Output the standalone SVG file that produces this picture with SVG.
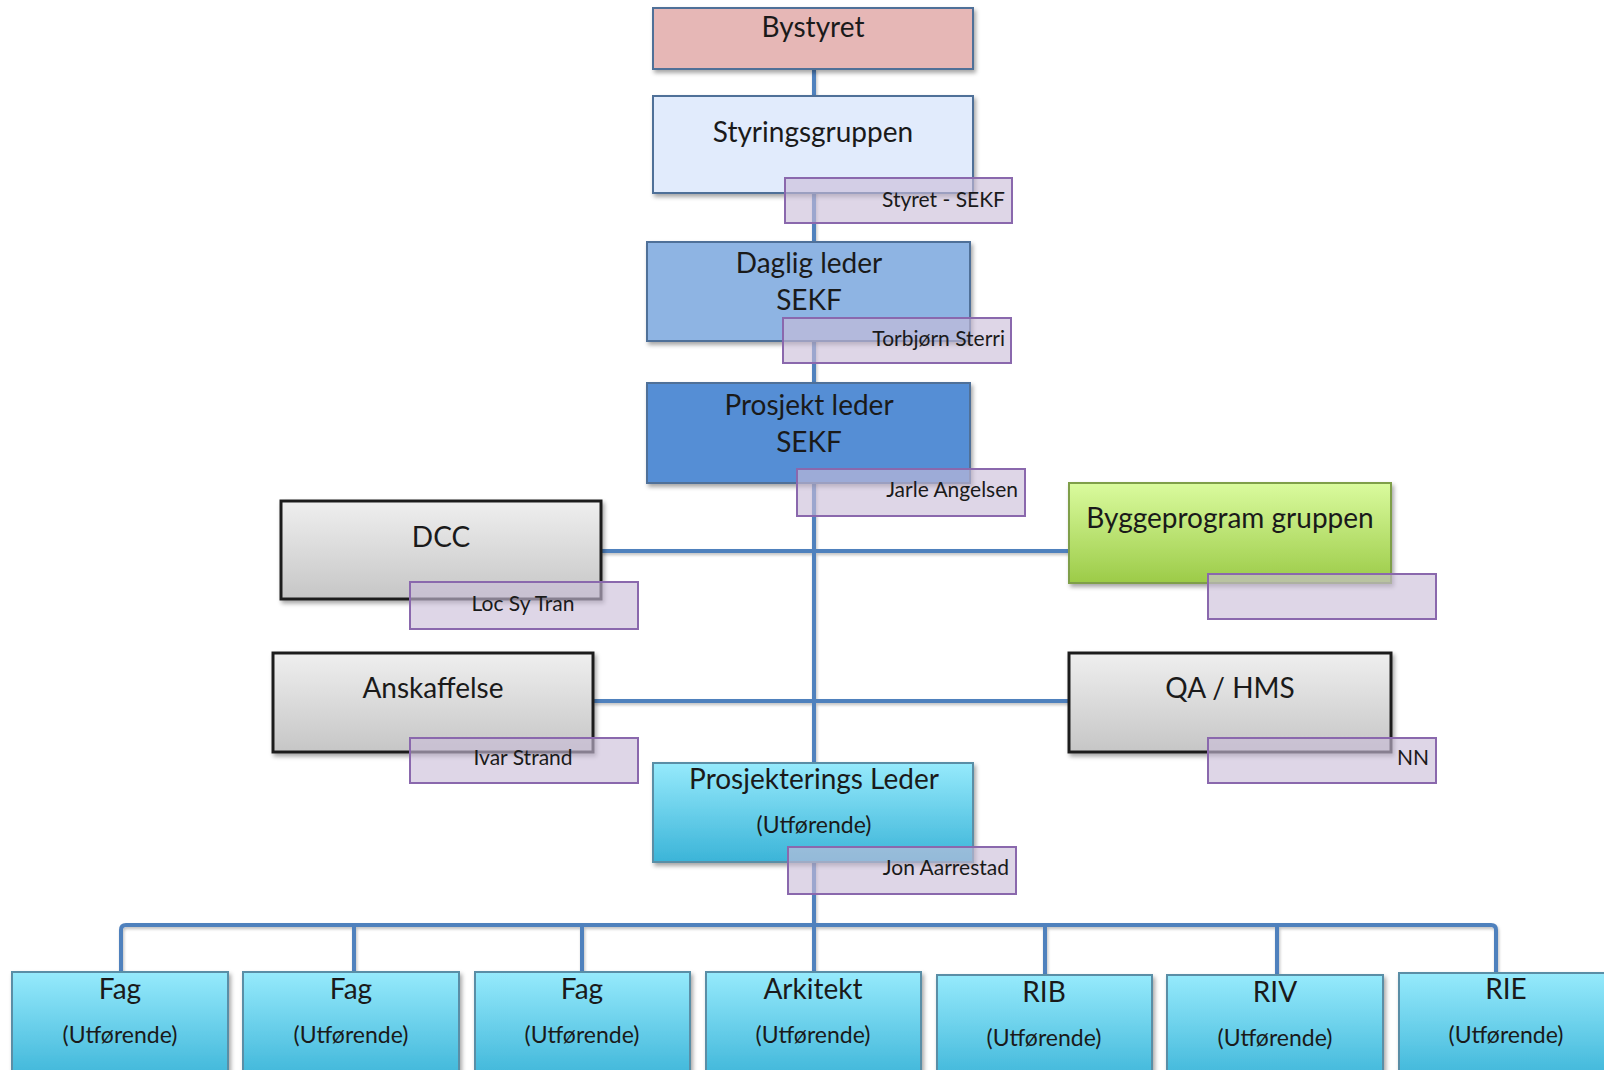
<svg xmlns="http://www.w3.org/2000/svg" width="1604" height="1070" viewBox="0 0 1604 1070">
<defs>
<filter id="sh" x="-10%" y="-10%" width="130%" height="140%">
<feDropShadow dx="2" dy="3" stdDeviation="2" flood-color="#000" flood-opacity="0.35"/>
</filter>
<filter id="lsh" filterUnits="userSpaceOnUse" x="0" y="0" width="1604" height="1070">
<feDropShadow dx="1" dy="2" stdDeviation="1.5" flood-color="#000" flood-opacity="0.25"/>
</filter>
<linearGradient id="gGray" x1="0" y1="0" x2="0" y2="1">
<stop offset="0" stop-color="#efefef"/><stop offset="1" stop-color="#c6c6c6"/>
</linearGradient>
<linearGradient id="gGreen" x1="0" y1="0" x2="0" y2="1">
<stop offset="0" stop-color="#dafb9e"/><stop offset="1" stop-color="#9ccb48"/>
</linearGradient>
<linearGradient id="gCyan" x1="0" y1="0" x2="0" y2="1">
<stop offset="0" stop-color="#96eafc"/><stop offset="1" stop-color="#3bb4d8"/>
</linearGradient>
</defs>
<style>
.t{font-family:Lato,"Liberation Sans",sans-serif;fill:#1a1a1a;text-anchor:middle}
.m{font-size:28px}
.u{font-size:23px}
.s{font-family:Lato,"Liberation Sans",sans-serif;fill:#1a1a1a;font-size:21px}
.e{text-anchor:end}
.c{text-anchor:middle}
.box{filter:url(#sh)}
.blue{stroke:#4f6f98;stroke-width:2}
.gray{fill:url(#gGray);stroke:#1e1e1e;stroke-width:3}
.green{fill:url(#gGreen);stroke:#7f9f48;stroke-width:2}
.cyan{fill:url(#gCyan);stroke:#5a8ea6;stroke-width:2}
.lbl{fill:#c9bdd8;fill-opacity:0.62;stroke:#8a68ad;stroke-width:2}
.con{fill:none;stroke:#4f81bd;stroke-width:4}
</style>
<g id="connectors" filter="url(#lsh)">
<path class="con" d="M814 69 V972"/>
<path class="con" d="M601 551 H1069"/>
<path class="con" d="M593 701 H1069"/>
<path class="con" d="M121 972 V930 Q121 925 126 925 H1491 Q1496 925 1496 930 V973"/>
<path class="con" d="M354 925 V972"/>
<path class="con" d="M582 925 V972"/>
<path class="con" d="M1045 925 V975"/>
<path class="con" d="M1277 925 V975"/>
</g>
<g id="bystyret"><rect class="box blue" x="653" y="8" width="320" height="61" fill="#e6b7b6"/><text class="t m" x="813" y="37">Bystyret</text></g>
<g id="styringsgruppen"><rect class="box blue" x="653" y="96" width="320" height="97" fill="#e1ebfc"/><text class="t m" x="813" y="142">Styringsgruppen</text></g>
<g id="daglig-leder"><rect class="box blue" x="647" y="242" width="323" height="99" fill="#8eb4e3"/><text class="t m" x="809" y="273">Daglig leder</text><text class="t m" x="809" y="310">SEKF</text></g>
<g id="prosjekt-leder"><rect class="box blue" x="647" y="383" width="323" height="100" fill="#558ed5"/><text class="t m" x="809" y="415">Prosjekt leder</text><text class="t m" x="809" y="452">SEKF</text></g>
<g id="dcc"><rect class="box gray" x="281" y="501" width="320" height="98"/><text class="t m" x="441" y="547">DCC</text></g>
<g id="anskaffelse"><rect class="box gray" x="273" y="653" width="320" height="99"/><text class="t m" x="433" y="698">Anskaffelse</text></g>
<g id="byggeprogram"><rect class="box green" x="1069" y="483" width="322" height="100"/><text class="t m" x="1230" y="528">Byggeprogram gruppen</text></g>
<g id="qa-hms"><rect class="box gray" x="1069" y="653" width="322" height="99"/><text class="t m" x="1230" y="698">QA / HMS</text></g>
<g id="prosjekterings-leder"><rect class="box cyan" x="653" y="763" width="320" height="99"/><text class="t m" x="814" y="789">Prosjekterings Leder</text><text class="t u" x="814" y="833">(Utførende)</text></g>
<g id="fag1"><rect class="box cyan" x="12" y="972" width="216" height="110"/><text class="t m" x="120" y="999">Fag</text><text class="t u" x="120" y="1043">(Utførende)</text></g>
<g id="fag2"><rect class="box cyan" x="243" y="972" width="216" height="110"/><text class="t m" x="351" y="999">Fag</text><text class="t u" x="351" y="1043">(Utførende)</text></g>
<g id="fag3"><rect class="box cyan" x="475" y="972" width="215" height="110"/><text class="t m" x="582" y="999">Fag</text><text class="t u" x="582" y="1043">(Utførende)</text></g>
<g id="arkitekt"><rect class="box cyan" x="706" y="972" width="215" height="110"/><text class="t m" x="813" y="999">Arkitekt</text><text class="t u" x="813" y="1043">(Utførende)</text></g>
<g id="rib"><rect class="box cyan" x="937" y="975" width="215" height="110"/><text class="t m" x="1044" y="1002">RIB</text><text class="t u" x="1044" y="1046">(Utførende)</text></g>
<g id="riv"><rect class="box cyan" x="1167" y="975" width="216" height="110"/><text class="t m" x="1275" y="1002">RIV</text><text class="t u" x="1275" y="1046">(Utførende)</text></g>
<g id="rie"><rect class="box cyan" x="1399" y="973" width="216" height="110"/><text class="t m" x="1506" y="999">RIE</text><text class="t u" x="1506" y="1043">(Utførende)</text></g>
<g id="labels">
<g id="lbl-styret"><rect class="lbl" x="785" y="178" width="227" height="45"/><text class="s e" x="1005" y="207">Styret - SEKF</text></g>
<g id="lbl-torbjorn"><rect class="lbl" x="783" y="318" width="228" height="45"/><text class="s e" x="1005" y="346">Torbjørn Sterri</text></g>
<g id="lbl-jarle"><rect class="lbl" x="797" y="469" width="228" height="47"/><text class="s e" x="1018" y="497">Jarle Angelsen</text></g>
<g id="lbl-loc"><rect class="lbl" x="410" y="582" width="228" height="47"/><text class="s c" x="523" y="611">Loc Sy Tran</text></g>
<g id="lbl-bygge"><rect class="lbl" x="1208" y="574" width="228" height="45"/></g>
<g id="lbl-ivar"><rect class="lbl" x="410" y="738" width="228" height="45"/><text class="s c" x="523" y="765">Ivar Strand</text></g>
<g id="lbl-nn"><rect class="lbl" x="1208" y="738" width="228" height="45"/><text class="s e" x="1429" y="765">NN</text></g>
<g id="lbl-jon"><rect class="lbl" x="788" y="847" width="228" height="47"/><text class="s e" x="1009" y="875">Jon Aarrestad</text></g>
</g>
</svg>
